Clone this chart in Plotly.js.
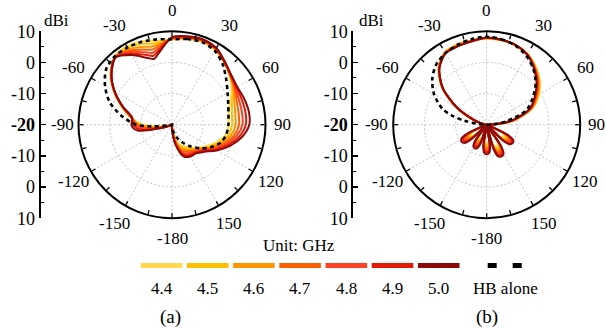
<!DOCTYPE html>
<html><head><meta charset="utf-8">
<script src="https://cdn.plot.ly/plotly-3.0.1.min.js"></script>
<style>html,body{margin:0;padding:0;background:#fff}</style>
</head><body><div id="chart" style="width:606px;height:329px"></div>
<script>
// ---------- data ----------
const freqLabels = ['4.4','4.5','4.6','4.7','4.8','4.9','5.0'];
const freqColors = ['#FFD84F','#FFC000','#FF9400','#FF6000','#FF4125','#E41A05','#8B0A0A'];
const hbLabel = 'HB alone';

const angleTickVals = [0,30,60,90,120,150,180,210,240,270,300,330];
const angleTickText = ['0','30','60','90','120','150','-180','-150','-120','-90','-60','-30'];
const scaleTickVals = [30,20,10,0,-10,-20,-30];
const scaleTickText = ['10','0','-10','<b>-20</b>','-10','0','10'];

// (a) angles (deg, clockwise from top) and gains (dBi)
const thetaA = [0,10,20,30,40,50,60,70,80,90,100,110,120,130,140,150,160,170,180,190,200,210,220,230,240,250,260,265,270,280,290,300,310,320,330,340,345,350];
const hbA  = [7.4,7.9,8.2,7.4,5.3,2.7,0.6,-0.8,-1.6,-1.9,-2.3,-3.3,-5.6,-8.2,-11.0,-13.5,-15.7,-18.0,-20,-20,-20,-20,-20,-20,-20,-20,-19,-13.5,-8.5,-3.5,1.3,4.8,7.6,8.6,8.6,8.3,8.0,7.8];
const a44 = [7.3,7.9,8.3,7.7,6.0,4.2,2.2,-0.3,-1.6,-1.8,-2.4,-4.3,-6.6,-8.6,-10.2,-11.9,-13.2,-16.5,-19.5,-20,-20,-20,-20,-20,-20,-20,-17.5,-14.0,-10.5,-6.5,-2.8,1.5,5.8,8.6,9.0,8.5,7.9,7.3];
const a45 = [7.4,8.0,8.4,7.8,6.1,4.3,2.5,0.5,-0.5,-0.7,-1.5,-3.6,-6.1,-8.3,-9.8,-11.3,-12.5,-16.0,-19.4,-20,-20,-20,-20,-20,-20,-20,-16.0,-13.0,-9.9,-6.6,-2.9,1.5,5.7,8.5,8.5,7.6,6.9,6.7];
const a46 = [7.5,8.2,8.6,7.9,6.1,4.4,2.9,1.3,0.6,0.4,-0.7,-2.9,-5.6,-7.9,-9.5,-10.7,-11.9,-15.5,-19.2,-20,-20,-20,-20,-20,-20,-19.5,-14.6,-11.8,-9.3,-6.7,-3.0,1.4,5.6,8.4,7.9,6.6,5.9,6.1];
const a47 = [7.6,8.3,8.7,8.0,6.2,4.5,3.2,2.1,1.7,1.5,0.2,-2.3,-5.0,-7.6,-9.1,-10.1,-11.2,-15.0,-19.0,-20,-20,-20,-20,-20,-20,-19.0,-13.2,-10.7,-8.7,-6.8,-3.1,1.4,5.5,8.3,7.4,5.7,4.9,5.5];
const a48 = [7.8,8.5,8.8,8.2,6.3,4.6,3.5,2.9,2.8,2.6,1.0,-1.6,-4.5,-7.2,-8.7,-9.4,-10.5,-14.5,-18.8,-20,-20,-20,-20,-20,-20,-18.5,-11.8,-9.6,-8.2,-6.9,-3.1,1.3,5.5,8.3,6.9,4.7,3.9,4.8];
const a49 = [7.9,8.6,9.0,8.3,6.3,4.7,3.9,3.8,3.9,3.7,1.9,-0.9,-4.0,-6.9,-8.4,-8.8,-9.9,-14.0,-18.7,-20,-20,-20,-20,-20,-20,-18.0,-10.4,-8.5,-7.6,-7.0,-3.2,1.3,5.4,8.2,6.3,3.8,2.9,4.2];
const a50 = [8.0,8.8,9.1,8.4,6.4,4.8,4.2,4.6,5.0,4.8,2.8,-0.2,-3.5,-6.5,-8.0,-8.2,-9.2,-13.5,-18.5,-20,-20,-20,-20,-20,-20,-17.5,-9.0,-7.5,-7.0,-7.0,-3.3,1.2,5.3,8.1,5.8,2.8,1.9,3.6];

// (b)
const thetaB = [0,10,20,30,40,50,60,70,80,85,90,100,
  111,116,120,125,130,134,140,146,150,155,160,164,168,171,175,180,185,189,193,198,202,207,212,216,221,227,231,236,241,245,250,
  260,270,275,280,285,290,300,310,320,330,340,350];
const hbB = [8.2,7.8,7.0,5.5,3.3,0.5,-3.0,-6.5,-13.5,-17.0,-20,-20,
  -20,-20,-20,-20,-20,-20,-20,-20,-20,-20,-20,-20,-20,-20,-20,-20,-20,-20,-20,-20,-20,-20,-20,-20,-20,-20,-20,-20,-20,-20,-20,
  -20,-20,-17.0,-12.8,-8.3,-4.8,-0.5,2.8,5.2,6.5,7.3,7.9];
const b44 = [7.6,7.5,7.1,6.2,4.4,2.2,-0.6,-4.3,-10.5,-14.8,-18.8,-20,
  -20,-15.1,-13.6,-13.2,-13.6,-15.1,-20,-14.4,-12.6,-12.2,-12.6,-14.4,-20,-15.5,-14.2,-13.8,-14.2,-15.5,-20,-16.3,-15.2,-14.8,-15.2,-16.3,-20,-15.7,-14.4,-14.0,-14.4,-15.7,-20,
  -20,-20,-20,-19.2,-17.5,-15.2,-8.5,-1.2,4.0,6.9,7.4,7.5];
const b45 = [7.7,7.5,7.1,6.2,4.3,2.0,-0.9,-4.5,-10.7,-15.0,-19.0,-20,
  -20,-14.7,-13.0,-12.6,-13.0,-14.7,-20,-14.0,-12.0,-11.6,-12.0,-14.0,-20,-15.2,-13.7,-13.3,-13.7,-15.2,-20,-15.9,-14.7,-14.3,-14.7,-15.9,-20,-15.3,-13.8,-13.4,-13.8,-15.3,-20,
  -20,-20,-20,-19.2,-17.6,-15.3,-8.6,-1.3,3.9,6.8,7.3,7.4];
const b46 = [7.7,7.6,7.1,6.1,4.1,1.8,-1.2,-4.7,-10.8,-15.2,-19.1,-20,
  -20,-14.2,-12.4,-12.0,-12.4,-14.2,-20,-13.5,-11.4,-11.0,-11.4,-13.5,-20,-14.8,-13.2,-12.8,-13.2,-14.8,-20,-15.5,-14.2,-13.8,-14.2,-15.5,-20,-14.9,-13.3,-12.9,-13.3,-14.9,-20,
  -20,-20,-20,-19.3,-17.7,-15.4,-8.7,-1.4,3.9,6.7,7.2,7.4];
const b47 = [7.8,7.6,7.2,6.1,4.0,1.6,-1.5,-4.9,-11.0,-15.4,-19.2,-20,
  -20,-13.8,-11.8,-11.4,-11.8,-13.8,-20,-13.1,-10.8,-10.4,-10.8,-13.1,-20,-14.4,-12.6,-12.2,-12.6,-14.4,-20,-15.1,-13.6,-13.2,-13.6,-15.1,-20,-14.5,-12.7,-12.3,-12.7,-14.5,-20,
  -20,-20,-20,-19.3,-17.8,-15.5,-8.8,-1.4,3.8,6.6,7.1,7.3];
const b48 = [7.9,7.6,7.2,6.0,3.9,1.3,-1.8,-5.0,-11.2,-15.5,-19.3,-20,
  -20,-13.4,-11.3,-10.9,-11.3,-13.4,-20,-12.7,-10.3,-9.9,-10.3,-12.7,-20,-14.0,-12.0,-11.6,-12.0,-14.0,-20,-14.7,-13.0,-12.6,-13.0,-14.7,-20,-14.0,-12.0,-11.6,-12.0,-14.0,-20,
  -20,-20,-20,-19.4,-17.8,-15.6,-8.8,-1.5,3.7,6.5,7.0,7.3];
const b49 = [7.9,7.7,7.2,6.0,3.7,1.1,-2.0,-5.2,-11.3,-15.7,-19.4,-20,
  -20,-13.0,-10.7,-10.3,-10.7,-13.0,-20,-12.3,-9.7,-9.3,-9.7,-12.3,-20,-13.6,-11.5,-11.1,-11.5,-13.6,-20,-14.3,-12.5,-12.1,-12.5,-14.3,-20,-13.5,-11.4,-11.0,-11.4,-13.5,-20,
  -20,-20,-20,-19.4,-17.9,-15.7,-8.9,-1.5,3.7,6.5,6.9,7.2];
const b50 = [8.0,7.7,7.2,6.0,3.6,0.9,-2.2,-5.4,-11.5,-15.8,-19.5,-20,
  -20,-12.7,-10.2,-9.8,-10.2,-12.7,-20,-11.9,-9.2,-8.8,-9.2,-11.9,-20,-13.2,-10.9,-10.5,-10.9,-13.2,-20,-13.9,-11.9,-11.5,-11.9,-13.9,-20,-13.0,-10.7,-10.3,-10.7,-13.0,-20,
  -20,-20,-20,-19.5,-18.0,-15.8,-9.0,-1.6,3.6,6.4,6.8,7.2];

const seriesA = [a44,a45,a46,a47,a48,a49,a50];
const seriesB = [b44,b45,b46,b47,b48,b49,b50];

// ---------- build ----------
const FONT = '"Liberation Serif", "Times New Roman", Times, serif';
const RMIN = -20, RMAX = 10;
const close = a => a.concat([a[0]]);
const closeT = t => t.concat([360]);

function gridTraces(sub){
  const tr = [];
  const r = [], th = [];
  angleTickVals.forEach(a => { r.push(RMIN, RMAX, null); th.push(a, a, null); });
  tr.push({type:'scatterpolar', subplot:sub, r:r, theta:th, mode:'lines', connectgaps:false,
    line:{color:'#c4c4c4', width:1, dash:'2px,2px'}, hoverinfo:'skip', showlegend:false});
  [-10, 0].forEach(rv => {
    const tt = [], rr = [];
    for (let a = 0; a <= 360; a += 3) { tt.push(a); rr.push(rv); }
    tr.push({type:'scatterpolar', subplot:sub, r:rr, theta:tt, mode:'lines',
      line:{color:'#c4c4c4', width:1, dash:'2px,2px'}, hoverinfo:'skip', showlegend:false});
  });
  return tr;
}

function dataTraces(sub, theta, series, hb){
  const tr = [];
  series.forEach((s, i) => {
    tr.push({type:'scatterpolar', subplot:sub, r:close(s), theta:closeT(theta), mode:'lines',
      line:{color:freqColors[i], width:2, shape:'spline', smoothing:0.8}, name:freqLabels[i], showlegend:false});
  });
  tr.push({type:'scatterpolar', subplot:sub, r:close(hb), theta:closeT(theta), mode:'lines',
    line:{color:'#000', width:2.6, dash:'4px,3.5px', shape:'spline', smoothing:0.8}, name:hbLabel, showlegend:false});
  return tr;
}

const traces = [].concat(
  gridTraces('polar'), gridTraces('polar2'),
  dataTraces('polar', thetaA, seriesA, hbA),
  dataTraces('polar2', thetaB, seriesB, hbB),
  [{type:'scatter', x:[0], y:[0], xaxis:'x', yaxis:'y', mode:'markers', marker:{opacity:0}, hoverinfo:'skip', showlegend:false},
   {type:'scatter', x:[0], y:[0], xaxis:'x2', yaxis:'y2', mode:'markers', marker:{opacity:0}, hoverinfo:'skip', showlegend:false}]
);

const W = 606, H = 329;
const px = x => x / W, py = y => 1 - y / H;
const cy = 124.7, R = 93.5;
const yDom = [py(cy + R), py(cy - R)];
const centers = [172, 486.7];

const angTickVals = [];
for (let a = 0; a < 360; a += 15) angTickVals.push(a);

function polarLayout(cx){
  return {
    domain:{x:[px(cx - R), px(cx + R)], y:yDom},
    bgcolor:'rgba(0,0,0,0)',
    radialaxis:{range:[RMIN, RMAX], showline:false, showticklabels:false, ticks:'', showgrid:false},
    angularaxis:{rotation:90, direction:'clockwise', tickmode:'array', tickvals:angTickVals, showticklabels:false,
      ticks:'inside', ticklen:4, tickwidth:1.3, tickcolor:'#000', linecolor:'#000', linewidth:2, showgrid:false}
  };
}

function scaleAxis(dom){
  return {domain:yDom, range:[-30, 30], showline:true, linecolor:'#000', linewidth:2, ticks:'inside', ticklen:5,
    tickwidth:1.5, tickcolor:'#000', tickmode:'array', tickvals:scaleTickVals, ticktext:scaleTickText,
    minor:{dtick:5, tick0:0, ticks:'inside', ticklen:3, tickwidth:1, tickcolor:'#000'},
    showgrid:false, zeroline:false, fixedrange:true, tickfont:{family:FONT, size:18, color:'#000'}, anchor:dom};
}

const shapes = [], annotations = [];
const txt = (x, y, t, size) => annotations.push({xref:'paper', yref:'paper', x:px(x), y:py(y), text:t, showarrow:false,
  xanchor:'center', yanchor:'middle', font:{family:FONT, size:size, color:'#000'}});

// angular labels around each circle
centers.forEach(cx => {
  angleTickVals.forEach((a, i) => {
    const rl = (a === 90 || a === 270) ? 110 : 114;
    const rad = a * Math.PI / 180;
    txt(cx + rl * Math.sin(rad), cy - rl * Math.cos(rad), angleTickText[i], 17);
  });
});

const legY = 265.5, legStart = 140.7, legStep = 46.2, legLen = 41.6;
freqLabels.forEach((f, i) => {
  const x0 = legStart + i * legStep;
  shapes.push({type:'line', xref:'paper', yref:'paper', x0:px(x0), x1:px(x0 + legLen), y0:py(legY), y1:py(legY),
    line:{color:freqColors[i], width:5}});
  txt(x0 + legLen / 2, 288, f, 17);
});
[[487.7, 496.7], [512.7, 521.7]].forEach(d => shapes.push({type:'line', xref:'paper', yref:'paper',
  x0:px(d[0]), x1:px(d[1]), y0:py(legY), y1:py(legY), line:{color:'#000', width:5}}));
txt(505, 288, hbLabel, 17);
txt(299, 245, 'Unit: GHz', 17);
txt(171, 317, '(a)', 19);
txt(487, 317, '(b)', 19);
txt(56, 21, 'dBi', 17);
txt(371, 21, 'dBi', 17);

const barX1 = 40.7, barX2 = 353.3;
const layout = {
  width:W, height:H, margin:{l:0, r:0, t:0, b:0}, paper_bgcolor:'#fff', plot_bgcolor:'rgba(0,0,0,0)',
  showlegend:false, font:{family:FONT, color:'#000'},
  polar:polarLayout(centers[0]), polar2:polarLayout(centers[1]),
  xaxis:{domain:[px(barX1), px(barX1 + 8)], visible:false, range:[0, 1], fixedrange:true},
  xaxis2:{domain:[px(barX2), px(barX2 + 8)], visible:false, range:[0, 1], fixedrange:true},
  yaxis:scaleAxis('x'), yaxis2:scaleAxis('x2'),
  shapes:shapes, annotations:annotations
};

Plotly.newPlot('chart', traces, layout, {staticPlot:true, displayModeBar:false});
</script></body></html>
